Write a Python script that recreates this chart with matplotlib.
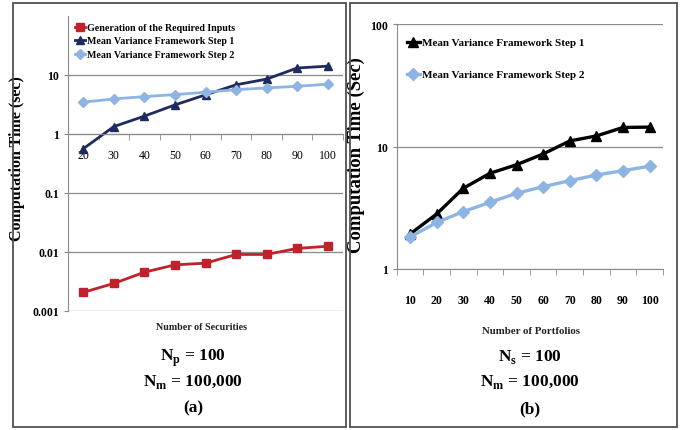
import numpy as np
import matplotlib
matplotlib.use('Agg')
import matplotlib.pyplot as plt
from matplotlib.patches import Rectangle

plt.rcParams['font.family'] = ['Liberation Serif', 'DejaVu Serif']
plt.rcParams['mathtext.fontset'] = 'custom'
plt.rcParams['mathtext.rm'] = 'Liberation Serif:bold'

# (a) number of securities vs time
securities = [20, 30, 40, 50, 60, 70, 80, 90, 100]
gen_inputs = [0.00205, 0.0029, 0.0045, 0.006, 0.0064, 0.009, 0.009, 0.0114, 0.0124]
mv_step1_a = [0.56, 1.33, 2.0, 3.1, 4.6, 6.8, 8.5, 13.1, 14.1]
mv_step2_a = [3.45, 3.92, 4.29, 4.64, 5.09, 5.63, 6.02, 6.43, 6.95]

# (b) number of portfolios vs time
portfolios = [10, 20, 30, 40, 50, 60, 70, 80, 90, 100]
mv_step1_b = [1.93, 2.81, 4.56, 6.04, 7.1, 8.69, 11.1, 12.2, 14.3, 14.4]
mv_step2_b = [1.82, 2.4, 2.94, 3.5, 4.15, 4.7, 5.26, 5.85, 6.35, 6.9]

RED = '#C0212B'
NAVY = '#1F2A5E'
LBLUE = '#8DB4E2'
GRID = '#8A8A8A'

fig = plt.figure(figsize=(6.86, 4.31), dpi=100)

# panel frames
fig.add_artist(Rectangle((13 / 686, 1 - 428 / 431), 333 / 686, 424 / 431,
                         transform=fig.transFigure, fill=False, ec='#505050', lw=1.3))
fig.add_artist(Rectangle((350 / 686, 1 - 428 / 431), 327 / 686, 424 / 431,
                         transform=fig.transFigure, fill=False, ec='#505050', lw=1.3))


def style_axes(ax, n, labels, pad):
    ax.set_yscale('log')
    ax.set_xlim(-0.5, n - 0.5)
    ax.set_xticks(range(n))
    ax.set_xticklabels(labels)
    ax.set_xticks(np.arange(n + 1) - 0.5, minor=True)
    ax.tick_params(axis='x', which='major', length=0, pad=pad, labelsize=8.5)
    ax.tick_params(axis='x', which='minor', length=4, color=GRID, direction='out')
    ax.tick_params(axis='y', which='major', length=3, color=GRID, labelsize=8.5)
    ax.tick_params(axis='y', which='minor', length=0)
    ax.spines['top'].set_visible(False)
    ax.spines['right'].set_visible(False)
    ax.spines['left'].set_color(GRID)
    ax.spines['bottom'].set_color(GRID)
    ax.grid(axis='y', which='major', color=GRID, lw=0.9)
    ax.set_axisbelow(True)


def bold_ticks(ax):
    for lbl in ax.get_xticklabels() + ax.get_yticklabels():
        lbl.set_fontweight('bold')


# ---- panel (a)
ax1 = fig.add_axes([68 / 686, 1 - 311.7 / 431, 275 / 686, 294.7 / 431])
style_axes(ax1, len(securities), [str(s) for s in securities], 11)
x_a = np.arange(len(securities))
ax1.plot(x_a, gen_inputs, color=RED, marker='s', ms=5.5, lw=2,
         label='Generation of the Required Inputs')
ax1.plot(x_a, mv_step1_a, color=NAVY, marker='^', ms=6, lw=2,
         label='Mean Variance Framework Step 1')
ax1.plot(x_a, mv_step2_a, color=LBLUE, marker='D', ms=5, lw=2,
         label='Mean Variance Framework Step 2')
ax1.set_ylim(0.001, 100)
ax1.set_yticks([0.001, 0.01, 0.1, 1, 10])
ax1.set_yticks([], minor=True)
ax1.set_yticklabels(['0.001', '0.01', '0.1', '1', '10'])
bold_ticks(ax1)
ax1.spines['bottom'].set_position(('data', 1))
ax1.set_ylabel('Computation Time (sec)', fontsize=11.5, fontweight='bold')
ax1.yaxis.set_label_coords(-0.156, 0.52)
ax1.legend(loc='upper left', bbox_to_anchor=(0.0, 1.0), frameon=False,
           prop={'size': 7.2, 'weight': 'bold'}, handlelength=1.0,
           handletextpad=0.2, labelspacing=0.45, borderaxespad=0.3)

fig.text(202 / 686, 1 - 328 / 431, 'Number of Securities', ha='center', va='center',
         fontsize=7.2, fontweight='bold', color='#222222')
fig.text(193 / 686, 1 - 358 / 431, r'N$_\mathrm{p}$ = 100', ha='center', va='center',
         fontsize=12.5, fontweight='bold')
fig.text(193 / 686, 1 - 382 / 431, r'N$_\mathrm{m}$ = 100,000', ha='center', va='center',
         fontsize=12.5, fontweight='bold')
fig.text(193 / 686, 1 - 408 / 431, '(a)', ha='center', va='center',
         fontsize=12.5, fontweight='bold')

# ---- panel (b)
ax2 = fig.add_axes([396.7 / 686, 1 - 270 / 431, 266.3 / 686, 245 / 431])
style_axes(ax2, len(portfolios), [str(p) for p in portfolios], 18)
x_b = np.arange(len(portfolios))
ax2.plot(x_b, mv_step1_b, color='black', marker='^', ms=7, lw=2.4,
         label='Mean Variance Framework Step 1')
ax2.plot(x_b, mv_step2_b, color=LBLUE, marker='D', ms=6, lw=2.4,
         label='Mean Variance Framework Step 2')
ax2.set_ylim(1, 100)
ax2.set_yticks([1, 10, 100])
ax2.set_yticks([], minor=True)
ax2.set_yticklabels(['1', '10', '100'])
bold_ticks(ax2)
ax2.set_ylabel('Computation Time (Sec)', fontsize=13.5, fontweight='bold')
ax2.yaxis.set_label_coords(-0.12, 0.47)
ax2.legend(loc='upper left', bbox_to_anchor=(0.0, 0.985), frameon=False,
           prop={'size': 8, 'weight': 'bold'}, handlelength=1.2,
           handletextpad=0.2, labelspacing=2.0, borderaxespad=0.5)

fig.text(531 / 686, 1 - 332 / 431, 'Number of Portfolios', ha='center', va='center',
         fontsize=7.8, fontweight='bold', color='#222222')
fig.text(530 / 686, 1 - 357 / 431, r'N$_\mathrm{s}$ = 100', ha='center', va='center',
         fontsize=12.5, fontweight='bold')
fig.text(530 / 686, 1 - 382 / 431, r'N$_\mathrm{m}$ = 100,000', ha='center', va='center',
         fontsize=12.5, fontweight='bold')
fig.text(530 / 686, 1 - 409 / 431, '(b)', ha='center', va='center',
         fontsize=12.5, fontweight='bold')

fig.savefig('out.png', dpi=100)
